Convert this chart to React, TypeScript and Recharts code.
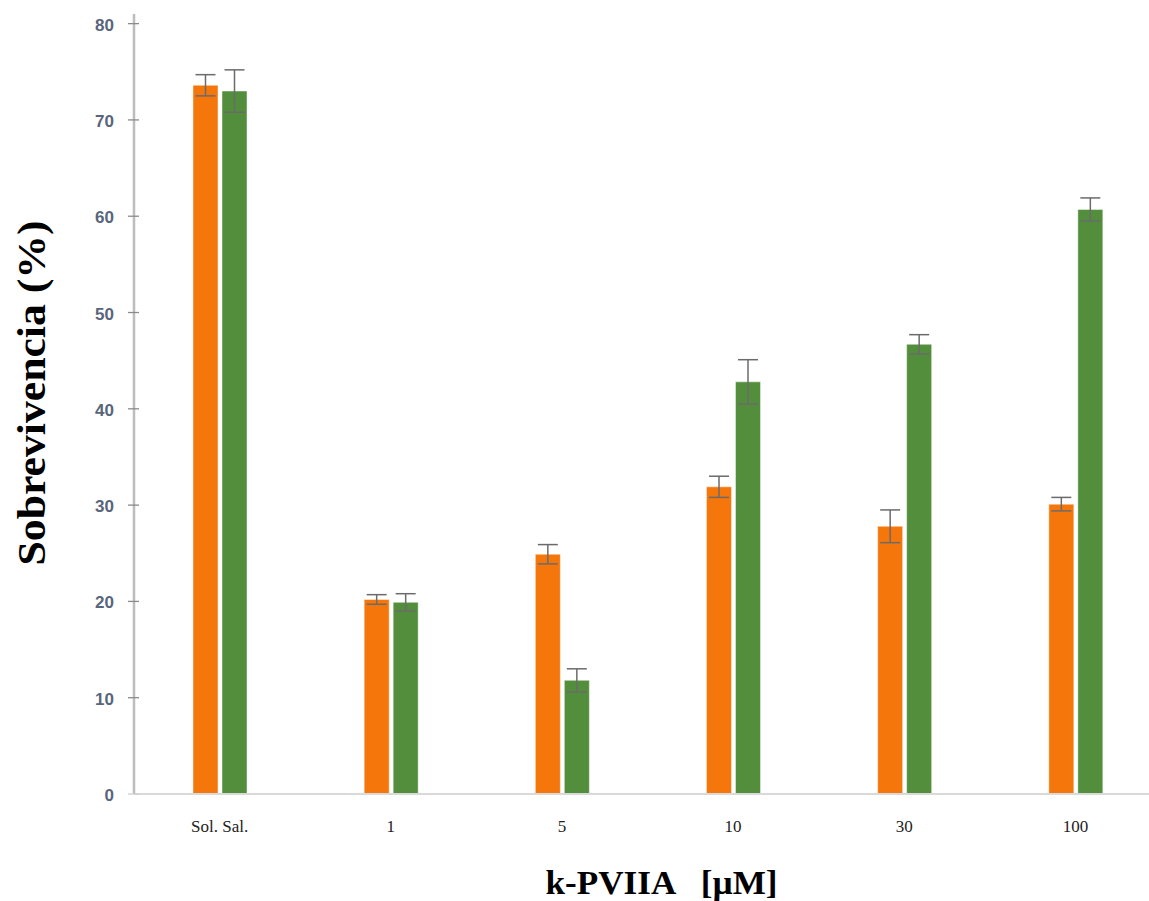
import { Bar, BarChart, ErrorBar, Label, XAxis, YAxis } from "recharts";

const categories = ["Sol. Sal.", "1", "5", "10", "30", "100"];
const orangeValues = [73.6, 20.2, 24.9, 31.9, 27.8, 30.1];
const orangeErrors = [1.1, 0.5, 1.0, 1.1, 1.7, 0.7];
const greenValues = [73.0, 19.9, 11.8, 42.8, 46.7, 60.7];
const greenErrors = [2.2, 0.9, 1.2, 2.3, 1.0, 1.2];
const yTicks = [0, 10, 20, 30, 40, 50, 60, 70, 80];

const chartData = categories.map((name, i) => ({
  name,
  orange: orangeValues[i],
  orangeErr: orangeErrors[i],
  green: greenValues[i],
  greenErr: greenErrors[i],
}));

const ORANGE = "#f5760b";
const GREEN = "#528e3b";
const SERIF = "'Liberation Serif', 'Times New Roman', serif";

function YTick(props: any) {
  const { x, y, payload } = props;
  return (
    <g>
      <line x1={x + 14} x2={x + 25} y1={y} y2={y} stroke={payload.value === 0 ? "#d0d0d0" : "#8a8a8a"} strokeWidth={1.3} />
      <text
        x={x}
        y={y}
        dy={7}
        textAnchor="end"
        fill="#58657a"
        fontSize={17}
        fontWeight="bold"
        fontFamily="'Liberation Sans', Arial, sans-serif"
      >
        {payload.value}
      </text>
    </g>
  );
}

function XTick(props: any) {
  const { x, y, payload } = props;
  return (
    <text x={x} y={y} dy={38} textAnchor="middle" fill="#222" fontSize={17} fontFamily={SERIF}>
      {payload.value}
    </text>
  );
}

export default function App() {
  return (
    <div
      style={{
        position: "fixed",
        left: 0,
        top: 0,
        width: 1149,
        height: 901,
        overflow: "hidden",
        background: "#fff",
      }}
    >
      <BarChart
        width={1170}
        height={901}
        data={chartData}
        margin={{ top: 14, right: 9, left: 0, bottom: 0 }}
        barSize={25}
        barGap={4}
      >
        <XAxis
          dataKey="name"
          height={107}
          tick={<XTick />}
          tickLine={false}
          tickSize={0}
          tickMargin={0}
          axisLine={{ stroke: "#d9d9d9", strokeWidth: 2 }}
        >
          <Label
            content={({ viewBox }: any) => (
              <text
                x={viewBox.x + viewBox.width / 2 + 14}
                y={viewBox.y + 100}
                textAnchor="middle"
                fontSize={34}
                fontWeight="bold"
                fontFamily={SERIF}
                fill="#000"
                textLength={232}
                lengthAdjust="spacingAndGlyphs"
                style={{ whiteSpace: "pre" }}
              >
                {"k-PVIIA   [µM]"}
              </text>
            )}
          />
        </XAxis>
        <YAxis
          width={134}
          domain={[0, 81]}
          ticks={yTicks}
          tick={<YTick />}
          tickLine={false}
          tickSize={0}
          tickMargin={20}
          axisLine={{ stroke: "#bdbdbd", strokeWidth: 2.5 }}
        >
          <Label
            content={({ viewBox }: any) => {
              const cx = 31;
              const cy = viewBox.y + viewBox.height / 2 - 11;
              return (
                <text
                  x={cx}
                  y={cy}
                  transform={`rotate(-90 ${cx} ${cy})`}
                  textAnchor="middle"
                  dominantBaseline="central"
                  fontSize={40}
                  fontWeight="bold"
                  fontFamily={SERIF}
                  fill="#000"
                  textLength={345}
                  lengthAdjust="spacingAndGlyphs"
                >
                  Sobrevivencia (%)
                </text>
              );
            }}
          />
        </YAxis>
        <Bar dataKey="orange" fill={ORANGE} stroke="rgba(255,255,255,0.45)" strokeWidth={1} isAnimationActive={false}>
          <ErrorBar dataKey="orangeErr" direction="y" width={10} stroke="#6b6b6b" strokeWidth={1.5} />
        </Bar>
        <Bar dataKey="green" fill={GREEN} stroke="rgba(255,255,255,0.45)" strokeWidth={1} isAnimationActive={false}>
          <ErrorBar dataKey="greenErr" direction="y" width={10} stroke="#6b6b6b" strokeWidth={1.5} />
        </Bar>
      </BarChart>
    </div>
  );
}
